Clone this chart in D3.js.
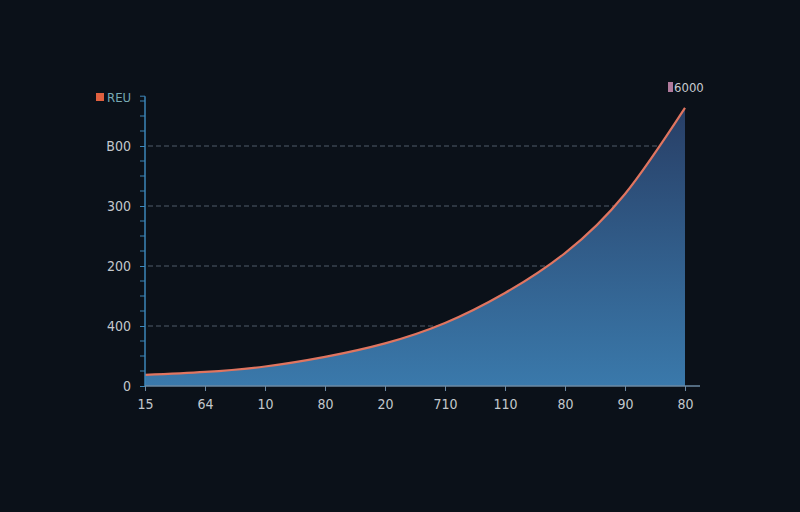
<!DOCTYPE html>
<html><head><meta charset="utf-8">
<script src="https://cdn.jsdelivr.net/npm/d3@7"></script>
<style>html,body{margin:0;padding:0;background:#0b1119;}svg{display:block;}</style>
</head><body>
<svg id="chart" width="800" height="512"></svg>
<script>
const categories = ["15","64","10","80","20","710","110","80","90","80"];
const values = [37, 47, 65, 97, 142, 210, 310, 443, 640, 927];
const yTickValues = [0, 200, 400, 600, 800];
const yTickLabels = ["0", "400", "200", "300", "B00"];
const legendLeft = "REU";
const legendRight = "6000";

const svg = d3.select("#chart");
const W = 800, H = 512;
const FONT = "'DejaVu Sans Condensed','Liberation Sans Narrow',sans-serif";
svg.append("rect").attr("width", W).attr("height", H).attr("fill", "#0b1119");

const x = d3.scalePoint().domain(d3.range(categories.length)).range([145, 685]);
const y = d3.scaleLinear().domain([0, 800]).range([386, 146]);
const yTop = 966;

const defs = svg.append("defs");
const grad = defs.append("linearGradient").attr("id", "g")
  .attr("gradientUnits", "userSpaceOnUse").attr("x1", 0).attr("x2", 0)
  .attr("y1", y(yTop)).attr("y2", y(0));
grad.append("stop").attr("offset", "0%").attr("stop-color", "#273c63");
grad.append("stop").attr("offset", "100%").attr("stop-color", "#3a79ab");

// gridlines
svg.append("g").selectAll("line").data(yTickValues.filter(d => d > 0)).join("line")
  .attr("x1", 148).attr("x2", 685).attr("y1", d => y(d)).attr("y2", d => y(d))
  .attr("stroke", "#515d6a").attr("stroke-width", 1).attr("stroke-dasharray", "5,3");

const data = values.map((v, i) => ({i, v}));
const curve = d3.curveNatural;
const area = d3.area().x(d => x(d.i)).y0(y(0)).y1(d => y(d.v)).curve(curve);
const line = d3.line().x(d => x(d.i)).y(d => y(d.v)).curve(curve);

svg.append("path").datum(data).attr("d", area).attr("fill", "url(#g)");
svg.append("path").datum(data).attr("d", line).attr("fill", "none")
  .attr("stroke", "#e07560").attr("stroke-width", 2.2);

// y axis
const yAxis = d3.axisLeft(y).tickValues(yTickValues).tickSize(5)
  .tickFormat((d, i) => yTickLabels[i]);
const gy = svg.append("g").attr("transform", "translate(145,0)").call(yAxis);
gy.select(".domain").remove();
gy.append("line").attr("x1", 0).attr("x2", 0).attr("y1", y(yTop)).attr("y2", y(0))
  .attr("stroke", "#3d86b8").attr("stroke-width", 1.5);
gy.selectAll(".tick line").attr("stroke", "#3d86b8");
gy.selectAll(".tick text").attr("fill", "#c3c8cd").attr("x", -14)
  .style("font-family", FONT).style("font-size", "14px");
// minor ticks
const minor = d3.range(0, yTop, 50).filter(d => d % 200 !== 0);
svg.append("g").selectAll("line").data(minor).join("line")
  .attr("x1", 140).attr("x2", 145).attr("y1", d => y(d)).attr("y2", d => y(d))
  .attr("stroke", "#3d86b8").attr("stroke-width", 1);
svg.append("line").attr("x1", 140).attr("x2", 145).attr("y1", y(yTop)).attr("y2", y(yTop))
  .attr("stroke", "#3d86b8");

// x axis
const xAxis = d3.axisBottom(x).tickSize(5).tickFormat(i => categories[i]);
const gx = svg.append("g").attr("transform", `translate(0,${y(0)})`).call(xAxis);
gx.select(".domain").remove();
gx.append("line").attr("x1", 145).attr("x2", 700).attr("y1", 0).attr("y2", 0)
  .attr("stroke", "#6d8aa3").attr("stroke-width", 1.5);
gx.selectAll(".tick line").attr("stroke", "#6d8aa3");
gx.selectAll(".tick text").attr("fill", "#c3c8cd").attr("y", 13)
  .style("font-family", FONT).style("font-size", "14px");

// legends
svg.append("rect").attr("x", 96).attr("y", 93).attr("width", 8).attr("height", 8).attr("fill", "#e0603f");
svg.append("text").attr("x", 107).attr("y", 102).text(legendLeft).attr("fill", "#78aab4")
  .style("font-family", FONT).style("font-size", "13px");
svg.append("rect").attr("x", 668).attr("y", 82).attr("width", 5).attr("height", 10).attr("fill", "#b07a9c");
svg.append("text").attr("x", 674).attr("y", 92).text(legendRight).attr("fill", "#c8cbd0")
  .style("font-family", FONT).style("font-size", "13px");
</script>
</body></html>
